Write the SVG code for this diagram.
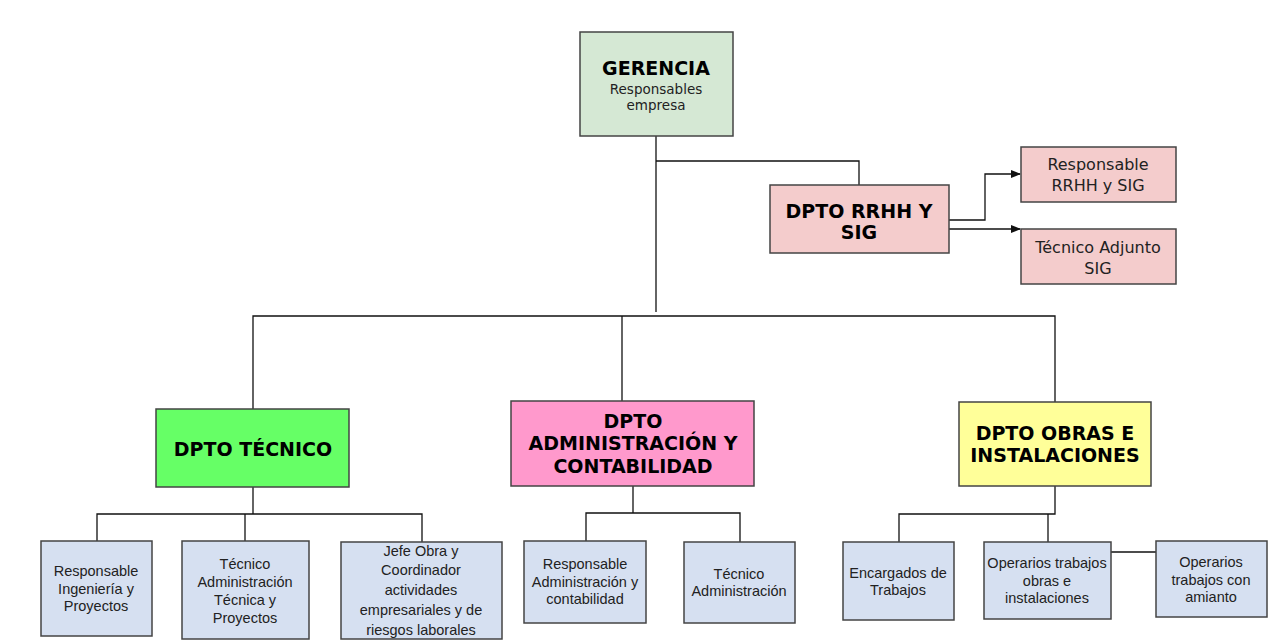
<svg xmlns="http://www.w3.org/2000/svg" width="1277" height="644" viewBox="0 0 1277 644">
<style>
.box{stroke:#444;stroke-width:1.5}
.hd{font-family:"DejaVu Sans",Verdana,sans-serif;font-weight:bold;font-size:19px;fill:#000;text-anchor:middle}
.vd{font-family:"DejaVu Sans",Verdana,sans-serif;fill:#222;text-anchor:middle}
.ar{font-family:"Liberation Sans",Arial,sans-serif;font-size:14.5px;fill:#222;text-anchor:middle}
.ln{fill:none;stroke:#111;stroke-width:1.3}
.child{fill:#d6e0f1}
</style>
<defs>
<marker id="arr" markerWidth="10" markerHeight="8" refX="9" refY="4" orient="auto" markerUnits="userSpaceOnUse">
<path d="M0,0 L10,4 L0,8 z" fill="#111"/>
</marker>
</defs>
<rect width="1277" height="644" fill="#fff"/>
<g id="connectors">
<path class="ln" d="M656,136 V312"/>
<path class="ln" d="M656,161 H859 V185"/>
<path class="ln" d="M949,220 H985 V174 H1020" marker-end="url(#arr)"/>
<path class="ln" d="M949,229 H1020" marker-end="url(#arr)"/>
<path class="ln" d="M253,409 V316 H1055 V402"/>
<path class="ln" d="M622,316 V401"/>
<path class="ln" d="M253,487 V514"/>
<path class="ln" d="M97,541 V514 H422 V542"/>
<path class="ln" d="M245,514 V541"/>
<path class="ln" d="M633,486 V513"/>
<path class="ln" d="M586,541 V513 H740 V542"/>
<path class="ln" d="M1055,486 V514 H899 V542"/>
<path class="ln" d="M1048,514 V542"/>
<path class="ln" d="M1111,552 H1156"/>
</g>
<g id="gerencia">
<rect class="box" x="580" y="32" width="153" height="104" fill="#d5e8d4"/>
<text class="hd" x="656" y="75" font-size="20">GERENCIA</text>
<text class="vd" x="656" y="94" font-size="13.5">Responsables</text>
<text class="vd" x="656" y="110" font-size="13.5">empresa</text>
</g>
<g id="rrhh">
<rect class="box" x="770" y="185" width="179" height="68" fill="#f4cccc"/>
<text class="hd" x="859" y="218">DPTO RRHH Y</text>
<text class="hd" x="859" y="239">SIG</text>
</g>
<g id="resp-rrhh">
<rect class="box" x="1021" y="147" width="155" height="55" fill="#f4cccc"/>
<text class="vd" x="1098" y="170" font-size="16">Responsable</text>
<text class="vd" x="1098" y="191" font-size="16">RRHH y SIG</text>
</g>
<g id="tec-sig">
<rect class="box" x="1021" y="229" width="155" height="55" fill="#f4cccc"/>
<text class="vd" x="1098" y="253" font-size="16">Técnico Adjunto</text>
<text class="vd" x="1098" y="274" font-size="16">SIG</text>
</g>
<g id="tecnico">
<rect class="box" x="156" y="409" width="193" height="78" fill="#66ff66"/>
<text class="hd" x="253" y="456">DPTO TÉCNICO</text>
</g>
<g id="admin">
<rect class="box" x="511" y="401" width="243" height="85" fill="#ff99cc"/>
<text class="hd" x="633" y="428">DPTO</text>
<text class="hd" x="633" y="450">ADMINISTRACIÓN Y</text>
<text class="hd" x="633" y="473">CONTABILIDAD</text>
</g>
<g id="obras">
<rect class="box" x="959" y="402" width="192" height="84" fill="#ffff99"/>
<text class="hd" x="1055" y="440">DPTO OBRAS E</text>
<text class="hd" x="1055" y="462">INSTALACIONES</text>
</g>
<g id="resp-ing">
<rect class="box child" x="41" y="541" width="111" height="95"/>
<text class="ar" x="96" y="576">Responsable</text>
<text class="ar" x="96" y="594">Ingeniería y</text>
<text class="ar" x="96" y="611">Proyectos</text>
</g>
<g id="tec-adm-tec">
<rect class="box child" x="182" y="541" width="127" height="98"/>
<text class="ar" x="245" y="569">Técnico</text>
<text class="ar" x="245" y="587">Administración</text>
<text class="ar" x="245" y="605">Técnica y</text>
<text class="ar" x="245" y="623">Proyectos</text>
</g>
<g id="jefe-obra">
<rect class="box child" x="341" y="542" width="161" height="97"/>
<text class="ar" x="421" y="556">Jefe Obra y</text>
<text class="ar" x="421" y="575">Coordinador</text>
<text class="ar" x="421" y="595">actividades</text>
<text class="ar" x="421" y="615">empresariales y de</text>
<text class="ar" x="421" y="635">riesgos laborales</text>
</g>
<g id="resp-adm">
<rect class="box child" x="524" y="541" width="122" height="82"/>
<text class="ar" x="585" y="569">Responsable</text>
<text class="ar" x="585" y="587">Administración y</text>
<text class="ar" x="585" y="604">contabilidad</text>
</g>
<g id="tec-adm">
<rect class="box child" x="684" y="542" width="111" height="81"/>
<text class="ar" x="739" y="579">Técnico</text>
<text class="ar" x="739" y="596">Administración</text>
</g>
<g id="encargados">
<rect class="box child" x="843" y="542" width="111" height="78"/>
<text class="ar" x="898" y="578">Encargados de</text>
<text class="ar" x="898" y="595">Trabajos</text>
</g>
<g id="operarios">
<rect class="box child" x="984" y="542" width="127" height="77"/>
<text class="ar" x="1047" y="568">Operarios trabajos</text>
<text class="ar" x="1047" y="586">obras e</text>
<text class="ar" x="1047" y="603">instalaciones</text>
</g>
<g id="amianto">
<rect class="box child" x="1156" y="541" width="111" height="76"/>
<text class="ar" x="1211" y="567">Operarios</text>
<text class="ar" x="1211" y="585">trabajos con</text>
<text class="ar" x="1211" y="602">amianto</text>
</g>
</svg>
